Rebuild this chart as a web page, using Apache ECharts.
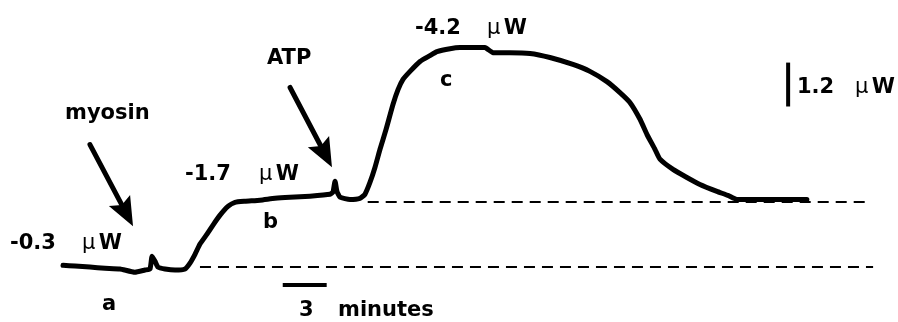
<!DOCTYPE html>
<html>
<head>
<meta charset="utf-8">
<script src="https://cdn.jsdelivr.net/npm/echarts@6/dist/echarts.min.js"></script>
<style>html,body{margin:0;padding:0;background:#fff}#c{width:898px;height:322px}</style>
</head>
<body>
<div id="c"></div>
<script>
// time (minutes from start of trace) and heat signal (µW, relative to lower baseline)
const time = [0,0.82,1.84,2.87,3.89,4.91,5.60,5.94,6.08,6.28,6.48,6.96,7.65,8.33,8.67,9.01,9.35,9.83,10.24,10.72,11.26,11.74,12.42,13.45,14.47,15.49,16.86,18.23,18.43,18.57,18.70,18.91,19.59,20.27,20.61,20.96,21.30,21.64,22.05,22.53,22.87,23.21,23.69,24.37,25.05,25.53,26.42,27.10,28.12,28.81,29.35,30.51,31.88,33.24,34.81,35.97,37.13,38.02,38.70,39.39,39.86,40.41,40.75,41.64,42.59,43.48,44.64,45.39,46.01,47.58,50.78];
const heat = [0.05,0.03,0,-0.03,-0.05,-0.14,-0.08,-0.05,0.30,0.16,0,-0.05,-0.08,-0.05,0.11,0.35,0.63,0.90,1.15,1.42,1.66,1.77,1.80,1.83,1.88,1.91,1.94,1.99,2.05,2.35,2.07,1.91,1.85,1.88,1.99,2.32,2.73,3.22,3.76,4.45,4.85,5.13,5.35,5.62,5.78,5.89,5.97,6.00,6.00,6.00,5.86,5.86,5.84,5.73,5.54,5.35,5.07,4.77,4.50,4.04,3.63,3.22,2.95,2.67,2.45,2.26,2.07,1.96,1.85,1.85,1.85];
// baselines: [level, start time, end time]
const lowerBase = [0, 9.35, 55.3];
const upperBase = [1.80, 20.8, 55.1];
// scale bars
const timeBar = [[15, -0.49], [18, -0.49]];      // 3 minutes
const heatBar = [[49.5, 4.39], [49.5, 5.59]];    // 1.2 µW
// arrows (data coords): start -> tip
const arrowMyosin = [[1.84, 3.35], [4.78, 1.12]];
const arrowATP = [[15.5, 4.91], [18.36, 2.73]];

const chart = echarts.init(document.getElementById('c'), null, {renderer: 'canvas'});
const FONT = '"DejaVu Sans", Arial, Helvetica, sans-serif';
chart.setOption({
  animation: false,
  backgroundColor: '#fff',
  grid: {left: 63, top: 11, width: 835, height: 312},
  xAxis: {type: 'value', min: 0, max: 57, show: false},
  yAxis: {type: 'value', min: -1.5, max: 7, show: false},
  series: [
    {
      type: 'line', data: time.map((t, i) => [t, heat[i]]),
      symbol: 'none', smooth: 0.15,
      lineStyle: {color: '#000', width: 5, join: 'round', cap: 'round'},
      markLine: {
        silent: true, symbol: 'none', label: {show: false},
        lineStyle: {color: '#000', width: 2, type: [11, 7]},
        data: [
          [{coord: [lowerBase[1], lowerBase[0]]}, {coord: [lowerBase[2], lowerBase[0]]}],
          [{coord: [upperBase[1], upperBase[0]]}, {coord: [upperBase[2], upperBase[0]]}]
        ]
      },
      z: 3
    },
    {type: 'line', data: timeBar, symbol: 'none', lineStyle: {color: '#000', width: 4}},
    {type: 'line', data: heatBar, symbol: 'none', lineStyle: {color: '#000', width: 4}}
  ]
});

function arrow(a) {
  const p0 = chart.convertToPixel({gridIndex: 0}, a[0]);
  const p1 = chart.convertToPixel({gridIndex: 0}, a[1]);
  const dx = p1[0] - p0[0], dy = p1[1] - p0[1];
  const L = Math.hypot(dx, dy), ux = dx / L, uy = dy / L, nx = -uy, ny = ux;
  const hl = 29, hw = 12, notch = 5;
  const bx = p1[0] - ux * hl, by = p1[1] - uy * hl;
  return [
    {type: 'line', shape: {x1: p0[0], y1: p0[1], x2: bx + ux * notch, y2: by + uy * notch},
     style: {stroke: '#000', lineWidth: 5, lineCap: 'round'}},
    {type: 'polygon', shape: {points: [
      [p1[0], p1[1]], [bx + nx * hw, by + ny * hw], [bx + ux * notch, by + uy * notch], [bx - nx * hw, by - ny * hw]
    ]}, style: {fill: '#000'}}
  ];
}
function label(x, y, txt) {
  return [{type: 'text', x: x, y: y, style: {text: txt, font: 'bold 21px ' + FONT, fill: '#000', verticalAlign: 'middle'}}];
}
function uw(x, y) {
  return [{type: 'text', x: x, y: y, style: {
    text: '{m|µ} {w|W}', verticalAlign: 'middle',
    rich: {m: {font: '21px ' + FONT, fill: '#000'}, w: {font: 'bold 21px ' + FONT, fill: '#000'}}
  }}];
}
const g = [].concat(
  arrow(arrowMyosin), arrow(arrowATP),
  label(65, 114, 'myosin'),
  label(267, 59, 'ATP'),
  label(10, 244, '-0.3'), uw(82, 244),
  label(102, 305, 'a'),
  label(185, 175, '-1.7'), uw(259, 175),
  label(263, 223, 'b'),
  label(415, 29, '-4.2'), uw(487, 29),
  label(440, 81, 'c'),
  label(797, 88, '1.2'), uw(855, 88),
  label(299, 311, '3'), label(338, 311, 'minutes')
);
chart.setOption({graphic: g});
</script>
</body>
</html>
